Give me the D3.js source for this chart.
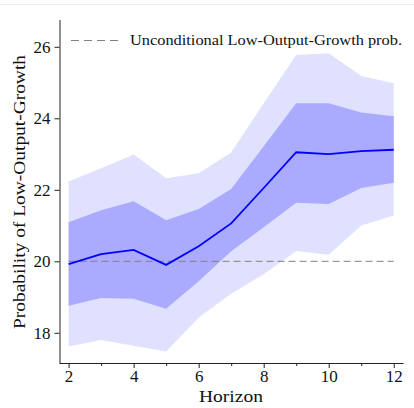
<!DOCTYPE html>
<html><head><meta charset="utf-8">
<script src="https://cdn.jsdelivr.net/npm/d3@7"></script>
<style>body{margin:0;background:#fff}svg{display:block}</style>
</head><body>
<script>
const horizon = [2,3,4,5,6,7,8,9,10,11,12];
const median  = [19.92,20.20,20.32,19.90,20.42,21.06,22.05,23.05,23.00,23.08,23.12];
const innerHi = [21.09,21.43,21.68,21.15,21.46,22.02,23.22,24.42,24.42,24.16,24.06];
const innerLo = [18.76,18.97,18.95,18.67,19.44,20.28,20.95,21.64,21.60,22.05,22.20];
const outerHi = [22.23,22.60,22.99,22.32,22.46,23.04,24.42,25.77,25.82,25.18,24.98];
const outerLo = [17.62,17.80,17.64,17.48,18.43,19.09,19.64,20.29,20.18,21.00,21.28];
const uncond = 20.0;
const xTicks = [2,4,6,8,10,12];
const xMinor = [3,5,7,9,11];
const yTicks = [18,20,22,24,26];
const legendLabel = "Unconditional Low-Output-Growth prob.";

const FONT='"Liberation Serif","DejaVu Serif",serif';
const W=414,H=408;
const svg=d3.select("body").append("svg").attr("width",W).attr("height",H);
svg.append("line").attr("x1",0).attr("x2",W).attr("y1",4.5).attr("y2",4.5).attr("stroke","#eeeeee");
const x=d3.scaleLinear().domain([1.72,12.3]).range([59.5,403.5]);
const y=d3.scaleLinear().domain([17.155,26.75]).range([363,20]);
const idx=d3.range(horizon.length);
const area=(lo,hi)=>d3.area().x(i=>x(horizon[i])).y0(i=>y(lo[i])).y1(i=>y(hi[i]));
svg.append("path").attr("d",area(outerLo,outerHi)(idx)).attr("fill","#e0e0ff");
svg.append("path").attr("d",area(innerLo,innerHi)(idx)).attr("fill","#aaaaff");
svg.append("line").attr("x1",x(2)).attr("x2",x(12)).attr("y1",y(uncond)).attr("y2",y(uncond))
  .attr("stroke","#808080").attr("stroke-width",1).attr("stroke-dasharray","7,4");
svg.append("path").attr("d",d3.line().x(i=>x(horizon[i])).y(i=>y(median[i]))(idx))
  .attr("fill","none").attr("stroke","#0000ff").attr("stroke-width",1.8);

const gx=svg.append("g").attr("transform","translate(0,363)")
  .call(d3.axisBottom(x).tickValues(xTicks).tickSize(5).tickPadding(2).tickSizeOuter(0));
const gxm=svg.append("g").attr("transform","translate(0,363)")
  .call(d3.axisBottom(x).tickValues(xMinor).tickSize(3).tickFormat("").tickSizeOuter(0));
gxm.select(".domain").remove();
const gy=svg.append("g").attr("transform","translate(59.5,0)")
  .call(d3.axisLeft(y).tickValues(yTicks).tickSize(5).tickPadding(4).tickSizeOuter(0));
[gx,gy,gxm].forEach(g=>{g.attr("font-family",FONT).attr("font-size",17);
  g.selectAll(".domain,line").attr("stroke","#222");
  g.selectAll("text").attr("fill","#111");});
gx.select(".domain").attr("d","M59.5,0.5H403.5");
gy.select(".domain").attr("d","M0.5,20V363.5");

svg.append("text").attr("x",231).attr("y",402).attr("text-anchor","middle")
  .attr("font-family",FONT).attr("font-size",17).attr("fill","#111")
  .attr("textLength",64).attr("lengthAdjust","spacingAndGlyphs").text("Horizon");
svg.append("text").attr("transform","translate(25,192) rotate(-90)").attr("text-anchor","middle")
  .attr("font-family",FONT).attr("font-size",17).attr("fill","#111")
  .attr("textLength",274).attr("lengthAdjust","spacingAndGlyphs").text("Probability of Low-Output-Growth");

svg.append("line").attr("x1",71).attr("x2",118).attr("y1",40.5).attr("y2",40.5).attr("stroke","#808080").attr("stroke-dasharray","8,5");
svg.append("text").attr("x",130).attr("y",45).attr("font-family",FONT).attr("font-size",14.5).attr("fill","#111")
  .attr("textLength",272).attr("lengthAdjust","spacingAndGlyphs").text(legendLabel);
</script>
</body></html>
